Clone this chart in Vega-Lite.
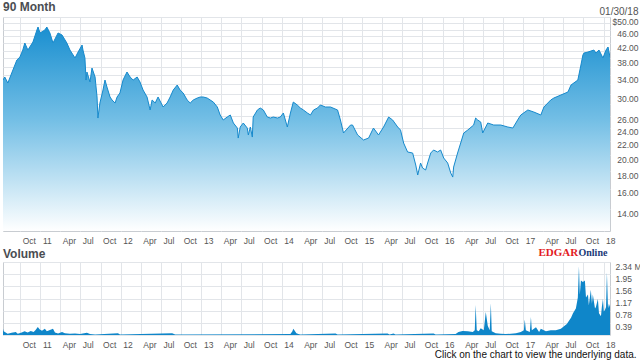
{
"$schema": "https://vega.github.io/schema/vega-lite/v6.json",
"background": "white",
"padding": {"left": 2, "top": 0, "right": 0, "bottom": 0},
"spacing": 31,
"bounds": "flush",
"config": {
  "font": "Liberation Sans",
  "view": {"stroke": "#c8ccd1", "strokeWidth": 1},
  "axis": {"gridColor": "#e2e5e9", "gridWidth": 1, "domain": false, "ticks": false, "labelFont": "Liberation Sans", "labelFontSize": 8.5, "labelColor": "#555555", "labelOverlap": false, "labelFlush": false, "labelBound": false},
  "title": {"font": "Liberation Sans", "fontSize": 12, "fontWeight": "bold", "color": "#4a4d52", "anchor": "start", "baseline": "alphabetic"}
},
"datasets": {
"price": [
{"date":"2010-07-15","close":32.92},{"date":"2010-07-23","close":33.59},{"date":"2010-08-06","close":32.28},{"date":"2010-08-29","close":35.18},{"date":"2010-09-16","close":37.6},{"date":"2010-09-30","close":38.35},{"date":"2010-10-13","close":40.17},{"date":"2010-10-22","close":42.08},{"date":"2010-11-05","close":40.17},{"date":"2010-11-28","close":42.36},{"date":"2010-12-16","close":45.87},{"date":"2010-12-21","close":46.79},{"date":"2010-12-30","close":44.97},{"date":"2011-01-21","close":45.87},{"date":"2011-01-30","close":46.79},{"date":"2011-02-13","close":44.97},{"date":"2011-02-27","close":42.08},{"date":"2011-03-22","close":44.97},{"date":"2011-04-09","close":44.38},{"date":"2011-05-01","close":42.08},{"date":"2011-05-15","close":40.17},{"date":"2011-06-07","close":38.1},{"date":"2011-06-21","close":39.64},{"date":"2011-07-09","close":41.53},{"date":"2011-07-13","close":40.17},{"date":"2011-07-22","close":38.1},{"date":"2011-07-27","close":32.92},{"date":"2011-07-31","close":34.72},{"date":"2011-08-14","close":32.5},{"date":"2011-08-23","close":35.65},{"date":"2011-09-06","close":33.59},{"date":"2011-09-15","close":29.42},{"date":"2011-09-19","close":25.59},{"date":"2011-09-28","close":28.27},{"date":"2011-10-12","close":30.81},{"date":"2011-10-21","close":32.92},{"date":"2011-10-30","close":31.43},{"date":"2011-11-13","close":29.42},{"date":"2011-11-22","close":28.84},{"date":"2011-12-06","close":28.27},{"date":"2011-12-15","close":29.42},{"date":"2011-12-28","close":30.21},{"date":"2012-01-11","close":32.92},{"date":"2012-01-29","close":34.72},{"date":"2012-02-12","close":33.59},{"date":"2012-02-26","close":32.92},{"date":"2012-03-15","close":33.59},{"date":"2012-03-28","close":32.5},{"date":"2012-04-11","close":30.81},{"date":"2012-04-29","close":29.42},{"date":"2012-05-13","close":26.99},{"date":"2012-05-22","close":28.84},{"date":"2012-06-05","close":28.27},{"date":"2012-06-18","close":29.42},{"date":"2012-07-11","close":27.53},{"date":"2012-07-29","close":28.27},{"date":"2012-08-12","close":29.42},{"date":"2012-08-26","close":30.81},{"date":"2012-09-13","close":31.85},{"date":"2012-09-26","close":30.81},{"date":"2012-10-10","close":30.21},{"date":"2012-10-28","close":28.84},{"date":"2012-11-11","close":28.27},{"date":"2012-11-25","close":28.84},{"date":"2012-12-13","close":29.22},{"date":"2012-12-27","close":29.42},{"date":"2013-01-09","close":29.42},{"date":"2013-01-27","close":29.22},{"date":"2013-02-24","close":28.45},{"date":"2013-03-14","close":27.53},{"date":"2013-03-27","close":26.11},{"date":"2013-04-10","close":25.26},{"date":"2013-04-28","close":25.76},{"date":"2013-05-12","close":26.11},{"date":"2013-05-26","close":24.76},{"date":"2013-06-13","close":23.95},{"date":"2013-06-17","close":22.41},{"date":"2013-06-26","close":24.11},{"date":"2013-07-10","close":24.76},{"date":"2013-07-28","close":23.95},{"date":"2013-08-02","close":22.87},{"date":"2013-08-11","close":24.11},{"date":"2013-08-20","close":22.56},{"date":"2013-08-24","close":25.76},{"date":"2013-09-12","close":26.99},{"date":"2013-09-25","close":27.35},{"date":"2013-10-09","close":26.99},{"date":"2013-10-27","close":25.76},{"date":"2013-11-10","close":25.59},{"date":"2013-11-23","close":25.76},{"date":"2013-12-12","close":25.59},{"date":"2013-12-25","close":25.76},{"date":"2014-01-08","close":26.46},{"date":"2014-01-26","close":24.11},{"date":"2014-02-09","close":26.46},{"date":"2014-02-22","close":28.45},{"date":"2014-03-12","close":27.9},{"date":"2014-03-26","close":27.35},{"date":"2014-04-09","close":26.99},{"date":"2014-04-27","close":26.46},{"date":"2014-05-11","close":26.11},{"date":"2014-05-25","close":26.99},{"date":"2014-06-12","close":27.35},{"date":"2014-06-25","close":27.9},{"date":"2014-07-18","close":27.53},{"date":"2014-08-10","close":27.53},{"date":"2014-09-11","close":26.99},{"date":"2014-09-24","close":25.26},{"date":"2014-10-08","close":23.17},{"date":"2014-11-09","close":24.43},{"date":"2014-11-18","close":24.43},{"date":"2014-12-11","close":22.87},{"date":"2015-01-07","close":22.12},{"date":"2015-01-30","close":22.41},{"date":"2015-02-21","close":23.95},{"date":"2015-03-16","close":22.87},{"date":"2015-04-08","close":24.11},{"date":"2015-05-01","close":25.76},{"date":"2015-05-19","close":25.26},{"date":"2015-06-11","close":24.11},{"date":"2015-06-24","close":23.63},{"date":"2015-07-08","close":21.68},{"date":"2015-07-26","close":20.43},{"date":"2015-08-18","close":20.29},{"date":"2015-09-01","close":18.74},{"date":"2015-09-10","close":17.54},{"date":"2015-09-23","close":18.99},{"date":"2015-10-02","close":18.37},{"date":"2015-10-16","close":18.13},{"date":"2015-10-25","close":18.99},{"date":"2015-11-08","close":20.29},{"date":"2015-11-21","close":20.7},{"date":"2015-12-09","close":20.43},{"date":"2015-12-23","close":20.7},{"date":"2016-01-06","close":19.63},{"date":"2016-01-24","close":18.99},{"date":"2016-02-07","close":17.77},{"date":"2016-02-16","close":17.3},{"date":"2016-02-20","close":18.49},{"date":"2016-03-09","close":20.29},{"date":"2016-03-23","close":21.68},{"date":"2016-04-06","close":23.17},{"date":"2016-04-24","close":23.63},{"date":"2016-05-21","close":24.43},{"date":"2016-05-30","close":25.59},{"date":"2016-06-08","close":25.26},{"date":"2016-06-22","close":24.92},{"date":"2016-07-01","close":23.17},{"date":"2016-07-24","close":24.76},{"date":"2016-08-20","close":24.43},{"date":"2016-09-21","close":24.43},{"date":"2016-10-23","close":24.11},{"date":"2016-11-15","close":23.95},{"date":"2016-12-12","close":25.59},{"date":"2016-12-21","close":26.11},{"date":"2017-01-22","close":26.99},{"date":"2017-02-18","close":26.63},{"date":"2017-03-22","close":26.11},{"date":"2017-04-05","close":27.53},{"date":"2017-05-06","close":28.84},{"date":"2017-05-20","close":29.22},{"date":"2017-06-21","close":29.81},{"date":"2017-07-23","close":30.41},{"date":"2017-08-06","close":31.85},{"date":"2017-09-06","close":32.92},{"date":"2017-09-20","close":36.37},{"date":"2017-09-29","close":38.87},{"date":"2017-10-04","close":39.38},{"date":"2017-10-22","close":39.64},{"date":"2017-11-18","close":40.17},{"date":"2017-11-27","close":39.38},{"date":"2017-12-11","close":40.17},{"date":"2017-12-29","close":38.1},{"date":"2018-01-12","close":40.17},{"date":"2018-01-21","close":40.98},{"date":"2018-01-30","close":38.35}
],
"volume": [
{"date":"2010-07-15","vol":0.2},{"date":"2010-07-18","vol":0.12},{"date":"2010-07-27","vol":0.08},{"date":"2010-08-05","vol":0.04},{"date":"2010-08-23","vol":0.07},{"date":"2010-09-11","vol":0.1},{"date":"2010-09-20","vol":0.04},{"date":"2010-10-08","vol":0.08},{"date":"2010-10-21","vol":0.12},{"date":"2010-11-04","vol":0.08},{"date":"2010-11-18","vol":0.13},{"date":"2010-12-01","vol":0.1},{"date":"2010-12-10","vol":0.16},{"date":"2010-12-20","vol":0.26},{"date":"2010-12-29","vol":0.18},{"date":"2011-01-08","vol":0.14},{"date":"2011-01-21","vol":0.2},{"date":"2011-01-30","vol":0.12},{"date":"2011-02-13","vol":0.16},{"date":"2011-02-27","vol":0.2},{"date":"2011-03-08","vol":0.08},{"date":"2011-03-22","vol":0.05},{"date":"2011-04-09","vol":0.1},{"date":"2011-04-22","vol":0.06},{"date":"2011-05-15","vol":0.04},{"date":"2011-06-07","vol":0.05},{"date":"2011-06-30","vol":0.03},{"date":"2011-07-31","vol":0.07},{"date":"2011-08-14","vol":0.03},{"date":"2011-09-06","vol":0.02},{"date":"2011-12-19","vol":0.06},{"date":"2011-12-28","vol":0.02},{"date":"2012-08-21","vol":0.06},{"date":"2012-09-04","vol":0.02},{"date":"2014-02-09","vol":0.03},{"date":"2014-02-18","vol":0.12},{"date":"2014-02-22","vol":0.2},{"date":"2014-02-27","vol":0.15},{"date":"2014-03-08","vol":0.06},{"date":"2014-03-17","vol":0.03},{"date":"2014-03-26","vol":0.02},{"date":"2014-09-02","vol":0.05},{"date":"2014-09-11","vol":0.02},{"date":"2015-04-26","vol":0.05},{"date":"2015-05-05","vol":0.02},{"date":"2015-05-23","vol":0.05},{"date":"2015-06-01","vol":0.02},{"date":"2015-11-21","vol":0.05},{"date":"2015-11-30","vol":0.02},{"date":"2016-02-29","vol":0.03},{"date":"2016-03-13","vol":0.1},{"date":"2016-04-01","vol":0.13},{"date":"2016-04-24","vol":0.12},{"date":"2016-05-17","vol":0.1},{"date":"2016-05-26","vol":0.15},{"date":"2016-05-30","vol":0.96},{"date":"2016-06-04","vol":0.15},{"date":"2016-06-13","vol":0.12},{"date":"2016-06-22","vol":0.22},{"date":"2016-07-06","vol":0.15},{"date":"2016-07-15","vol":0.74},{"date":"2016-07-24","vol":0.3},{"date":"2016-08-02","vol":0.15},{"date":"2016-08-07","vol":1.02},{"date":"2016-08-11","vol":0.12},{"date":"2016-08-29","vol":0.06},{"date":"2016-09-21","vol":0.04},{"date":"2016-10-14","vol":0.03},{"date":"2016-11-06","vol":0.04},{"date":"2016-11-29","vol":0.06},{"date":"2016-12-21","vol":0.1},{"date":"2017-01-04","vol":0.15},{"date":"2017-01-08","vol":0.5},{"date":"2017-01-13","vol":0.15},{"date":"2017-01-31","vol":0.1},{"date":"2017-02-05","vol":0.58},{"date":"2017-02-09","vol":0.15},{"date":"2017-02-28","vol":0.25},{"date":"2017-03-14","vol":0.1},{"date":"2017-03-22","vol":0.2},{"date":"2017-04-14","vol":0.12},{"date":"2017-05-06","vol":0.15},{"date":"2017-05-29","vol":0.15},{"date":"2017-06-21","vol":0.2},{"date":"2017-07-05","vol":0.28},{"date":"2017-07-18","vol":0.35},{"date":"2017-07-27","vol":0.45},{"date":"2017-08-06","vol":0.55},{"date":"2017-08-15","vol":0.7},{"date":"2017-08-28","vol":0.85},{"date":"2017-09-06","vol":1.2},{"date":"2017-09-11","vol":2.2},{"date":"2017-09-15","vol":1.3},{"date":"2017-09-20","vol":1.75},{"date":"2017-09-29","vol":1.7},{"date":"2017-10-08","vol":1.75},{"date":"2017-10-13","vol":1.2},{"date":"2017-10-22","vol":1.3},{"date":"2017-10-26","vol":0.95},{"date":"2017-11-04","vol":1.45},{"date":"2017-11-09","vol":1.0},{"date":"2017-11-13","vol":1.3},{"date":"2017-11-23","vol":0.85},{"date":"2017-11-27","vol":0.9},{"date":"2017-12-06","vol":1.15},{"date":"2017-12-11","vol":0.7},{"date":"2017-12-20","vol":0.6},{"date":"2017-12-24","vol":0.9},{"date":"2017-12-29","vol":1.15},{"date":"2018-01-02","vol":0.75},{"date":"2018-01-07","vol":0.8},{"date":"2018-01-12","vol":0.9},{"date":"2018-01-16","vol":2.0},{"date":"2018-01-21","vol":0.85},{"date":"2018-01-25","vol":1.0},{"date":"2018-01-30","vol":0.9}
]
},
"vconcat": [
{
  "width": 607, "height": 214,
  "title": {"text": "90 Month", "offset": -8},
  "data": {"name": "price"},
  "encoding": {
    "x": {"field": "date", "type": "temporal",
      "scale": {"domain": [{"year": 2010, "month": 7, "date": 15, "utc": true}, {"year": 2018, "month": 1, "date": 30, "utc": true}]},
      "axis": {"tickCount": {"interval": "month", "step": 3}, "labelExpr": "month(datum.value) == 0 ? timeFormat(datum.value, '%y') : timeFormat(datum.value, '%b')", "labelAlign": "left", "labelOffset": 2, "labelPadding": 5,
        "title": "EDGAR", "titleColor": "#e31b23", "titleFont": "Liberation Serif", "titleFontSize": 11, "titleFontWeight": "bold", "titleX": 535, "titleY": 24, "titleAlign": "left", "titleBaseline": "alphabetic", "titleAnchor": null}},
    "y": {"field": "close", "type": "quantitative", "stack": null,
      "scale": {"type": "log", "domain": [12.1, 50], "nice": false, "zero": false},
      "axis": {"orient": "right", "values": [14,16,18,20,22,24,26,28,30,32,34,36,38,40,42,44,46,48,50],
        "labelExpr": "datum.value == 50 ? '$50.00' : (indexof([28,32,36,40,44,48], datum.value) >= 0 ? '' : format(datum.value, '.2f'))",
        "labelAlign": "right", "labelBaseline": "middle", "labelOffset": 4, "labelPadding": 28,
        "title": "01/30/18", "titleAngle": 0, "titleX": 28, "titleY": -3, "titleAlign": "right", "titleBaseline": "alphabetic", "titleFontSize": 10, "titleFontWeight": "normal", "titleColor": "#555555", "titleFont": "Liberation Sans"}}
  },
  "layer": [
    {"mark": {"type": "area", "clip": true, "color": {"gradient": "linear", "x1": 0, "y1": 0, "x2": 0, "y2": 1, "stops": [{"offset": 0, "color": "#1a8fd0"}, {"offset": 0.45, "color": "#72bee5"}, {"offset": 1, "color": "#ffffff"}]}}, "encoding": {}},
    {"mark": {"type": "line", "clip": true, "color": "#1689cc", "strokeWidth": 1}, "encoding": {}}
  ]
},
{
  "width": 607, "height": 73,
  "title": {"text": "Volume", "offset": -14},
  "data": {"name": "volume"},
  "mark": {"type": "area", "clip": true, "color": "#0f86c9"},
  "encoding": {
    "x": {"field": "date", "type": "temporal",
      "scale": {"domain": [{"year": 2010, "month": 7, "date": 15, "utc": true}, {"year": 2018, "month": 1, "date": 30, "utc": true}]},
      "axis": {"tickCount": {"interval": "month", "step": 3}, "labelExpr": "month(datum.value) == 0 ? timeFormat(datum.value, '%y') : timeFormat(datum.value, '%b')", "labelAlign": "left", "labelOffset": 2, "labelPadding": 5,
        "title": "Click on the chart to view the underlying data.", "titleColor": "#111111", "titleFont": "Liberation Sans", "titleFontSize": 10, "titleFontWeight": "normal", "titleX": 633, "titleY": 22, "titleAlign": "right", "titleBaseline": "alphabetic", "titleAnchor": null}},
    "y": {"field": "vol", "type": "quantitative",
      "scale": {"domain": [0, 2.34], "nice": false},
      "axis": {"orient": "right", "values": [0, 0.39, 0.78, 1.17, 1.56, 1.95, 2.34],
        "labelExpr": "datum.value == 0 ? '' : (datum.value > 2.3 ? '2.34 M' : format(datum.value, '.2f'))",
        "labelAlign": "left", "labelBaseline": "middle", "labelOffset": 4, "labelPadding": 5,
        "title": "Online", "titleAngle": 0, "titleX": -32, "titleY": -7, "titleAlign": "left", "titleBaseline": "alphabetic", "titleFont": "Liberation Serif", "titleFontSize": 10, "titleFontWeight": "bold", "titleColor": "#1c3a78"}}
  }
}
]
}
